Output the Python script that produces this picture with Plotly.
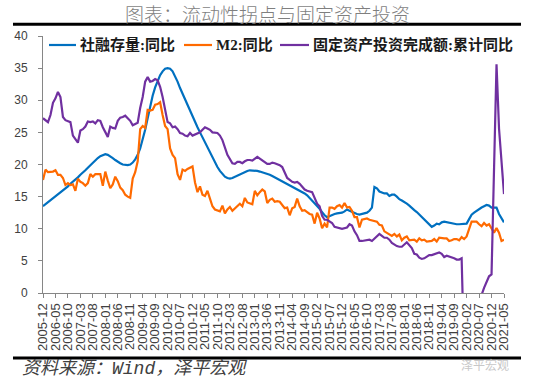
import plotly.graph_objects as go
import pandas as pd

months = [p.strftime("%Y-%m") for p in pd.period_range("2005-12", "2021-05", freq="M")]

tick_labels = ["2005-12", "2006-05", "2006-10", "2007-03", "2007-08", "2008-01", "2008-06",
               "2008-11", "2009-04", "2009-09", "2010-02", "2010-07", "2010-12", "2011-05",
               "2011-10", "2012-03", "2012-08", "2013-01", "2013-06", "2013-11", "2014-04",
               "2014-09", "2015-02", "2015-07", "2015-12", "2016-05", "2016-10", "2017-03",
               "2017-08", "2018-01", "2018-06", "2018-11", "2019-04", "2019-09", "2020-02",
               "2020-07", "2020-12", "2021-05"]

# 社融存量:同比
tsf = ([13.5]
       + [13.8, 14.1, 14.4, 14.7, 15.0, 15.3, 15.6, 16.0, 16.3, 16.6, 17.0, 17.3]
       + [17.7, 18.0, 18.4, 18.7, 19.1, 19.5, 19.9, 20.3, 20.7, 21.0, 21.3, 21.5]
       + [21.6, 21.5, 21.3, 21.0, 20.7, 20.4, 20.2, 20.0, 19.9, 19.9, 20.0, 20.3]
       + [20.8, 21.5, 22.5, 23.8, 25.4, 27.2, 29.0, 30.7, 32.0, 33.1, 33.9, 34.5]
       + [34.9, 35.0, 34.9, 34.5, 33.8, 32.9, 31.9, 31.0, 30.1, 29.2, 28.3, 27.4]
       + [26.6, 25.8, 25.0, 24.2, 23.4, 22.6, 21.8, 21.0, 20.3, 19.6, 19.0, 18.5]
       + [18.1, 17.9, 17.8, 17.9, 18.1, 18.3, 18.5, 18.7, 18.9, 19.0, 19.1, 19.1]
       + [19.1, 19.0, 18.9, 18.8, 18.7, 18.6, 18.4, 18.2, 18.0, 17.8, 17.6, 17.4]
       + [17.2, 17.0, 16.8, 16.6, 16.4, 16.2, 16.0, 15.8, 15.5, 15.2, 14.8, 14.4]
       + [14.0, 13.6, 13.1, 12.6, 12.1, 11.8, 12.0, 12.2, 12.3, 12.4, 12.4, 12.5]
       + [12.7, 13.0, 12.8, 12.6, 12.5, 12.3, 12.2, 12.3, 12.4, 12.5, 12.8, 13.3]
       + [16.5, 16.3, 15.8, 15.6, 15.5, 15.5, 15.1, 15.3, 15.3, 15.0, 14.6, 14.4]
       + [14.2, 13.9, 13.6, 13.2, 12.9, 12.6, 12.2, 11.9, 11.5, 11.1, 10.7, 10.3]
       + [10.5, 10.8, 10.7, 11.0, 11.1, 11.0, 10.9, 10.8, 10.7, 10.7, 10.7, 10.7]
       + [10.7, 10.8, 11.5, 12.2, 12.5, 12.8, 13.1, 13.3, 13.5, 13.7, 13.6, 13.3]
       + [13.3, 13.3, 12.3, 11.7, 11.0])

# M2:同比
m2 = ([17.6]
      + [19.2, 18.8, 18.8, 18.9, 19.1, 18.4, 18.4, 17.9, 16.8, 17.1, 16.8, 16.9]
      + [15.9, 17.8, 17.3, 17.1, 16.7, 17.1, 18.5, 18.1, 18.5, 18.5, 18.5, 16.7]
      + [18.9, 17.5, 16.3, 16.9, 18.1, 17.4, 16.4, 16.0, 15.3, 15.0, 14.8, 17.8]
      + [18.8, 20.5, 25.5, 26.0, 25.7, 28.5, 28.4, 28.5, 29.3, 29.4, 29.7, 27.7]
      + [26.0, 25.5, 22.5, 21.5, 21.0, 18.5, 17.6, 19.2, 19.0, 19.3, 19.5, 19.7]
      + [17.2, 15.7, 16.6, 15.3, 15.1, 15.9, 14.7, 13.5, 13.0, 12.9, 12.7, 13.6]
      + [12.4, 13.0, 13.4, 12.8, 13.2, 13.6, 13.9, 13.5, 14.8, 14.1, 13.9, 13.8]
      + [15.9, 15.2, 15.7, 16.1, 15.8, 14.0, 14.5, 14.7, 14.2, 14.3, 14.2, 13.6]
      + [13.2, 13.3, 12.1, 13.2, 13.4, 14.7, 13.5, 12.8, 12.9, 12.6, 12.3, 12.2]
      + [10.8, 12.5, 11.6, 10.1, 10.8, 10.2, 13.3, 13.3, 13.1, 13.5, 13.7, 13.3]
      + [14.0, 13.3, 13.4, 12.8, 11.8, 11.8, 10.2, 11.4, 11.5, 11.6, 11.4, 11.3]
      + [11.3, 11.1, 10.6, 10.5, 9.6, 9.4, 9.2, 8.9, 9.2, 8.8, 9.1, 8.2]
      + [8.6, 8.8, 8.2, 8.3, 8.3, 8.0, 8.5, 8.2, 8.3, 8.0, 8.0, 8.1]
      + [8.4, 8.0, 8.6, 8.5, 8.5, 8.5, 8.1, 8.2, 8.4, 8.4, 8.2, 8.7]
      + [8.4, 8.8, 10.1, 11.1, 11.1, 11.1, 10.7, 10.4, 10.9, 10.5, 10.7, 10.1]
      + [9.4, 10.1, 9.4, 8.1, 8.3])

# 固定资产投资完成额:累计同比 (no January release)
fai = ([27.2]
       + [None, 26.6, 27.7, 29.6, 30.3, 31.3, 30.5, 27.4, 26.9, 26.8, 26.6, 24.5]
       + [None, 23.4, 25.3, 25.5, 25.9, 26.7, 26.6, 26.7, 26.4, 26.9, 26.8, 25.8]
       + [None, 24.3, 25.9, 25.7, 25.6, 26.8, 27.3, 27.4, 27.6, 27.2, 26.8, 26.1]
       + [None, 26.5, 28.8, 30.5, 32.9, 33.6, 32.9, 33.0, 33.3, 33.1, 32.1, 30.5]
       + [None, 26.6, 26.4, 25.8, 25.9, 25.5, 24.9, 24.8, 24.5, 24.4, 24.9, 24.5]
       + [None, 24.9, 25.0, 25.4, 25.8, 25.6, 25.4, 25.0, 24.9, 24.9, 24.5, 23.8]
       + [None, 21.5, 20.9, 20.2, 20.1, 20.4, 20.4, 20.2, 20.5, 20.7, 20.7, 20.6]
       + [None, 21.2, 20.9, 20.6, 20.4, 20.1, 20.1, 20.3, 20.2, 20.1, 19.9, 19.6]
       + [None, 17.9, 17.6, 17.3, 17.2, 17.3, 17.0, 16.5, 16.1, 15.9, 15.8, 15.7]
       + [None, 13.9, 13.5, 12.0, 11.4, 11.4, 11.2, 10.9, 10.3, 10.2, 10.2, 10.0]
       + [None, 10.2, 10.7, 10.5, 9.6, 9.0, 8.1, 8.1, 8.2, 8.3, 8.3, 8.1]
       + [None, 8.9, 9.2, 8.9, 8.6, 8.6, 8.3, 7.8, 7.5, 7.3, 7.2, 7.2]
       + [None, 7.9, 7.5, 7.0, 6.1, 6.0, 5.5, 5.3, 5.4, 5.7, 5.9, 5.9]
       + [None, 6.1, 6.3, 6.1, 5.6, 5.8, 5.7, 5.5, 5.4, 5.2, 5.2, 5.4]
       + [None, -24.5, -16.1, -10.3, -6.3, -3.1, -1.6, -0.3, 0.8, 1.8, 2.6, 2.9]
       + [None, 35.6, 25.6, 19.9, 15.4])

assert len(months) == len(tsf) == len(m2) == len(fai) == 186

names = ["社融存量:同比", "M2:同比", "固定资产投资完成额:累计同比"]
colors = ["#0070C0", "#FF6A00", "#7030A0"]

fig = go.Figure()
for name, vals, col in zip(names, [tsf, m2, fai], colors):
    fig.add_trace(go.Scatter(x=months, y=vals, name=name, mode="lines",
                             connectgaps=True, showlegend=False,
                             line=dict(color=col, width=2.2)))

axis_gray = "#868686"
fig.update_layout(
    width=556, height=380,
    margin=dict(l=43, r=52, t=36, b=87),
    paper_bgcolor="white", plot_bgcolor="white",
    font=dict(family="Liberation Sans, Noto Sans CJK SC", color="#404040"),
    showlegend=False,
    xaxis=dict(type="category", range=[0, len(months) - 1],
               tickmode="array", tickvals=tick_labels, ticktext=tick_labels,
               tickangle=-90, ticks="outside", ticklen=4, tickcolor=axis_gray,
               showline=True, linecolor=axis_gray, linewidth=1, showgrid=False,
               zeroline=False,
               tickfont=dict(family="Liberation Sans", size=13, color="#404040")),
    yaxis=dict(range=[0, 40], dtick=5, ticks="outside", ticklen=4, tickcolor=axis_gray,
               showline=True, linecolor=axis_gray, linewidth=1, showgrid=False,
               zeroline=False, ticklabelstandoff=8,
               tickfont=dict(family="Liberation Sans", size=12, color="#404040")),
)

# legend row across the top of the plot (sample line + label for each series)
legend_line_x = [(0.013, 0.0716), (0.3059, 0.3666), (0.5141, 0.577)]
legend_y = 0.965
for name, col, (lx0, lx1) in zip(names, colors, legend_line_x):
    fig.add_shape(type="line", xref="paper", yref="paper", x0=lx0, x1=lx1,
                  y0=legend_y, y1=legend_y, line=dict(color=col, width=2.2))
    fig.add_annotation(text="<b>" + name + "</b>", xref="paper", yref="paper",
                       x=lx1 + 0.004, y=legend_y, xanchor="left", yanchor="middle",
                       showarrow=False,
                       font=dict(family="Liberation Serif, Noto Sans CJK SC", size=15,
                                 color="#1a1a1a"))

fig.add_annotation(text="图表：流动性拐点与固定资产投资", xref="paper", yref="paper",
                   x=0.486, y=1.0865, xanchor="center", yanchor="middle", showarrow=False,
                   font=dict(family="Noto Sans CJK SC", size=19, color="#7f7f7f", weight=300))
fig.add_shape(type="line", xref="paper", yref="paper", x0=-0.0651, x1=1.0369,
              y0=1.0455, y1=1.0455, line=dict(color="black", width=3))
fig.add_shape(type="line", xref="paper", yref="paper", x0=-0.0651, x1=1.0369,
              y0=-0.2529, y1=-0.2529, line=dict(color="black", width=3))
fig.add_annotation(text="<i>资料来源：Wind，泽平宏观</i>", xref="paper", yref="paper",
                   x=-0.05, y=-0.2957, xanchor="left", yanchor="middle", showarrow=False,
                   font=dict(family="Liberation Mono, Noto Sans CJK SC", size=18, color="#404040"))
fig.add_annotation(text="泽平宏观", xref="paper", yref="paper",
                   x=1.0152, y=-0.28, xanchor="right", yanchor="middle", showarrow=False,
                   font=dict(family="Noto Sans CJK SC", size=12, color="#c8c8c8"))

fig.write_html("out.html", config={"displayModeBar": False})

# remove the browser's default body margin so the figure sits at the page origin
with open("out.html", encoding="utf-8") as f:
    html = f.read()
html = html.replace("<head>", "<head><style>html,body{margin:0;padding:0;}</style>", 1)
with open("out.html", "w", encoding="utf-8") as f:
    f.write(html)
